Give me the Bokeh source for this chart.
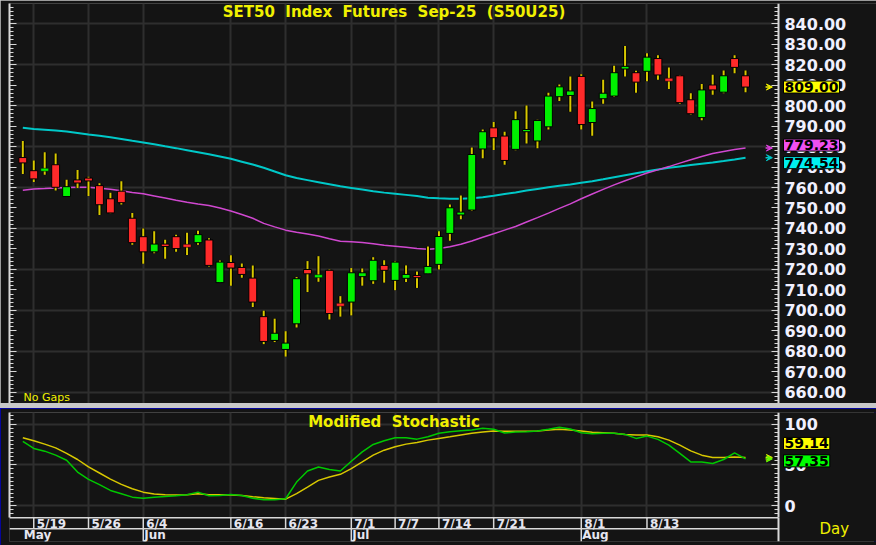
from bokeh.plotting import figure
from bokeh.layouts import column
from bokeh.models import (ColumnDataSource, Range1d, LinearAxis, SingleIntervalTicker, FixedTicker,
                          PrintfTickFormatter, Grid, Label, Arrow, VeeHead)
from bokeh.core.properties import value
from bokeh.embed import file_html
from bokeh.resources import INLINE

# ---------------- data ----------------
tick_idx = [1, 6, 11, 19, 24, 30, 34, 38, 43, 51, 57]
tick_labels = ["5/19", "5/26", "6/4", "6/16", "6/23", "7/1", "7/7", "7/14", "7/21", "8/1", "8/13"]
month_idx = [0, 11, 30, 51]
month_labels = ["May", "Jun", "Jul", "Aug"]

opens = [774.6, 768.2, 768.3, 771.1, 755.6, 763.7, 764.6, 760.9, 754.5, 758.2,
         745.0, 736.0, 728.6, 732.4, 736.0, 731.8, 733.1, 734.4, 713.6, 723.4,
         721.0, 715.8, 697.0, 685.4, 681.0, 693.5, 720.0, 716.5, 719.6, 703.0,
         704.1, 716.5, 714.5, 722.0, 714.7, 715.7, 717.1, 717.9, 722.5, 737.6,
         746.6, 749.0, 778.8, 789.1, 785.1, 778.6, 787.2, 782.7, 789.6, 804.3,
         804.9, 814.2, 791.7, 803.3, 804.6, 817.8, 816.0, 816.7, 822.9, 812.8,
         814.5, 802.8, 794.1, 810.0, 806.5, 822.9, 814.5]
highs = [782.7, 773.2, 777.2, 776.6, 763.8, 768.5, 765.3, 762.1, 757.4, 763.0,
         747.6, 740.0, 738.6, 734.5, 737.0, 737.9, 738.9, 735.3, 724.4, 727.0,
         722.9, 722.0, 699.9, 696.0, 689.9, 716.3, 724.1, 726.5, 720.0, 707.0,
         720.7, 720.5, 726.0, 724.5, 724.0, 722.0, 719.0, 731.2, 738.6, 751.7,
         756.1, 779.5, 788.3, 792.0, 787.2, 797.2, 800.0, 793.1, 806.2, 810.2,
         814.2, 815.2, 802.0, 812.6, 819.4, 829.0, 817.0, 825.5, 824.5, 818.6,
         814.9, 806.0, 810.5, 815.0, 817.1, 824.5, 817.1]
lows = [766.6, 762.7, 766.2, 758.5, 755.4, 759.8, 755.8, 746.6, 747.4, 751.7,
        732.1, 722.8, 727.9, 725.2, 728.7, 727.1, 732.1, 721.5, 713.4, 712.1,
        716.0, 701.7, 683.6, 684.6, 677.5, 691.7, 709.0, 714.0, 695.6, 697.0,
        697.6, 712.1, 713.0, 713.6, 709.9, 713.9, 711.0, 717.9, 720.0, 734.0,
        744.5, 748.5, 774.3, 778.3, 771.1, 778.2, 781.5, 779.1, 788.3, 802.2,
        796.9, 788.3, 785.3, 800.9, 804.1, 814.2, 806.2, 811.8, 812.6, 808.1,
        800.9, 795.6, 792.8, 805.2, 806.0, 815.7, 806.5]
closes = [772.0, 764.2, 769.0, 760.1, 760.4, 762.2, 763.2, 751.6, 747.6, 752.6,
          733.1, 728.6, 732.4, 731.2, 730.2, 731.3, 737.0, 722.0, 723.6, 720.7,
          717.6, 704.1, 684.9, 688.9, 684.1, 715.5, 717.9, 717.0, 698.5, 702.6,
          718.4, 718.4, 724.5, 719.6, 723.6, 717.6, 716.0, 721.5, 736.1, 750.1,
          748.0, 776.1, 787.2, 784.3, 773.2, 793.1, 788.3, 792.7, 804.6, 809.1,
          807.1, 790.7, 798.5, 806.0, 816.0, 819.1, 811.4, 823.6, 814.9, 812.3,
          801.4, 796.0, 807.6, 807.6, 814.5, 818.6, 809.0]

ma_fast = [758.7, 759.3, 759.5, 759.8, 760.0, 760.1, 760.1, 759.6, 759.1, 758.4,
           757.6, 756.9, 755.9, 754.9, 753.8, 752.8, 751.9, 751.2, 750.0, 748.5,
           746.8, 745.0, 742.5, 740.8, 739.2, 738.2, 737.3, 736.3, 735.0, 733.8,
           733.5, 733.2, 732.6, 731.8, 731.3, 730.8, 730.2, 729.9, 730.2, 731.1,
           732.3, 733.9, 735.7, 737.4, 739.2, 741.0, 743.2, 745.3, 747.5, 749.8,
           752.0, 754.5, 756.8, 759.1, 761.3, 763.3, 765.2, 767.1, 768.6, 770.2,
           771.9, 773.5, 775.1, 776.6, 777.6, 778.5, 779.23]
ma_slow = [789.1, 788.5, 788.2, 787.8, 787.3, 786.6, 785.9, 785.3, 784.5, 783.7,
           782.8, 782.0, 781.1, 780.1, 779.2, 778.2, 777.2, 776.2, 775.1, 774.0,
           772.6, 771.2, 769.6, 767.8, 766.0, 764.6, 763.6, 762.6, 761.6, 760.6,
           759.8, 759.0, 758.2, 757.5, 757.0, 756.4, 755.8, 755.0, 754.7, 754.5,
           754.5, 754.8, 755.3, 756.0, 756.8, 757.6, 758.5, 759.3, 760.1, 760.8,
           761.5, 762.3, 763.1, 764.0, 765.0, 766.0, 767.0, 767.9, 768.8, 769.6,
           770.3, 771.0, 771.6, 772.2, 772.9, 773.7, 774.54]

stoch_k = [78.7, 70.1, 66.8, 61.9, 55.7, 41.3, 32.3, 25.8, 18.8, 14.8,
           10.6, 9.3, 10.6, 11.4, 12.3, 13.5, 16.7, 12.3, 12.7, 13.9,
           12.7, 9.3, 7.4, 7.4, 8.6, 29.0, 42.6, 47.5, 44.3, 42.6,
           54.5, 65.9, 75.0, 79.5, 83.2, 83.2, 81.5, 84.4, 88.6, 90.5,
           91.8, 92.6, 94.7, 93.5, 88.9, 90.2, 90.5, 91.4, 93.5, 95.9,
           93.8, 89.3, 88.1, 88.6, 88.6, 87.3, 82.4, 85.2, 81.2, 74.2,
           64.0, 53.6, 53.6, 51.7, 56.6, 64.7, 57.35]
stoch_d = [83.2, 79.5, 75.4, 70.8, 64.0, 56.6, 47.5, 40.1, 32.7, 26.2,
           20.9, 16.7, 14.3, 13.5, 13.1, 13.5, 14.8, 13.5, 13.5, 13.1,
           12.7, 11.1, 9.8, 9.0, 8.1, 14.8, 22.9, 31.1, 35.2, 38.5,
           45.5, 53.6, 61.9, 68.0, 72.1, 75.4, 77.5, 80.3, 82.4, 84.4,
           86.5, 88.6, 90.2, 91.4, 91.0, 91.0, 91.0, 91.4, 92.6, 93.5,
           92.6, 91.4, 89.8, 89.3, 88.6, 87.3, 86.5, 86.5, 84.4, 80.3,
           74.2, 67.2, 61.9, 59.0, 59.0, 59.8, 59.14]

# ---------------- layout constants ----------------
BG = "#141414"
GRID = "#2e2e2e"
AXC = "#d8d8d8"
LABC = "#f0f0ff"
YEL = "#f0f000"
FONT = "DejaVu Sans"
X0, X1 = -1.215, 77.96          # whole frame (incl. price-scale area)
X_AX = 69.01                    # location of price scale line
Y1_LO, Y1_HI = 654.63, 849.76
Y2_LO, Y2_HI = -43.64, 114.06
DT_TOP, DT_MID = -14.67, -28.12
DATE_Y, MONTH_Y = -22.2, -36.3
LBL_X = 69.47
ARR_X0, ARR_X1 = 67.83, 68.45
NB = "\u00a0"

n = len(closes)
idx = list(range(n))
XR = Range1d(X0, X1)


def style_right_axis(ax, fmt=None):
    if fmt is not None:
        ax.formatter = fmt
    ax.major_label_text_color = LABC
    ax.major_label_text_font = FONT
    ax.major_label_text_font_style = "bold"
    ax.major_label_text_font_size = "16px"
    ax.major_label_standoff = 6
    ax.major_tick_in, ax.major_tick_out = 7, 0
    ax.minor_tick_in, ax.minor_tick_out = 4, 0
    ax.axis_line_color = AXC
    ax.axis_line_width = 2
    ax.major_tick_line_color = AXC
    ax.minor_tick_line_color = AXC


def hidden_left_axis(ticker, bounds="auto"):
    return LinearAxis(ticker=ticker, bounds=bounds,
                      major_label_text_font_size="0px", major_label_text_color=None,
                      major_label_standoff=0,
                      major_tick_in=7, major_tick_out=0, minor_tick_in=4, minor_tick_out=0,
                      axis_line_color=AXC, axis_line_width=2,
                      major_tick_line_color=AXC, minor_tick_line_color=AXC)


def box(fig, y, txt, fill, yoff=0):
    fig.add_layout(Label(x=LBL_X, y=y, y_offset=yoff, text=txt, text_align="left",
                         text_baseline="middle", text_color="black", text_font=FONT,
                         text_font_style="bold", text_font_size="14px",
                         background_fill_color=fill, border_line_color="black",
                         padding=1))


def arrow(fig, y, col):
    fig.add_layout(Arrow(x_start=ARR_X0, x_end=ARR_X1, y_start=y, y_end=y,
                         line_color=col, line_width=1.5,
                         end=VeeHead(size=6, line_color=col, fill_color=col)))


# ---------------- price panel ----------------
p = figure(width=876, height=403, x_range=XR, y_range=Range1d(Y1_LO, Y1_HI),
           output_backend="svg", toolbar_location=None, x_axis_location=None,
           y_axis_location=None, min_border_left=9, min_border_right=0,
           min_border_top=3, min_border_bottom=0, background_fill_color=BG,
           border_fill_color=BG, outline_line_color=None,
           styles={"outline": "3px solid #c8c8c8", "outline-offset": "-3px"})
for g in p.grid:
    g.visible = False

p.add_layout(Grid(dimension=1, ticker=SingleIntervalTicker(interval=20),
                  grid_line_color=GRID, grid_line_width=2))
p.add_layout(Grid(dimension=0, ticker=FixedTicker(ticks=tick_idx),
                  grid_line_color=GRID, grid_line_width=2))

ra = LinearAxis(ticker=SingleIntervalTicker(interval=10, num_minor_ticks=5),
                fixed_location=X_AX)
style_right_axis(ra, PrintfTickFormatter(format="%.2f"))
p.add_layout(ra, "right")
p.add_layout(hidden_left_axis(SingleIntervalTicker(interval=10, num_minor_ticks=5)), "left")

# price-scale area background (hides grid there)
p.quad(left=[X_AX], right=[X1], bottom=[Y1_LO], top=[Y1_HI], fill_color=BG, line_color=None)

# moving averages (behind candles)
p.line(idx, ma_slow, line_color="#00c8c8", line_width=2)
p.line(idx, ma_fast, line_color="#d048d0", line_width=1.5)

UP, DN = "#00f000", "#ff2a2a"
colors = [UP if c >= o else DN for o, c in zip(opens, closes)]
src = ColumnDataSource(dict(x=idx, h=highs, l=lows))
p.segment("x", "h", "x", "l", source=src, line_color="black", line_width=4)
p.segment("x", "h", "x", "l", source=src, line_color="#d8c800", line_width=2)

big = [i for i in idx if abs(opens[i] - closes[i]) >= 1.0]
small = [i for i in idx if abs(opens[i] - closes[i]) < 1.0]
bsrc = ColumnDataSource(dict(x=big,
                             top=[max(opens[i], closes[i]) for i in big],
                             bot=[min(opens[i], closes[i]) for i in big],
                             col=[colors[i] for i in big]))
p.vbar(x="x", width=0.72, top="top", bottom="bot", source=bsrc,
       fill_color="col", line_color="black", line_width=1)
ssrc = ColumnDataSource(dict(x=small,
                             y=[(opens[i] + closes[i]) / 2 for i in small],
                             col=[colors[i] for i in small]))
p.rect(x="x", y="y", width=0.72, height=3, height_units="screen", source=ssrc,
       fill_color="col", line_color="black", line_width=0.5)

p.add_layout(Label(x=(X0 + X_AX) / 2, y=Y1_HI, y_offset=1,
                   text=f"SET50{NB} Index{NB} Futures{NB} Sep-25{NB} (S50U25)",
                   text_align="center", text_baseline="top", text_color=YEL,
                   text_font=FONT, text_font_style="bold", text_font_size="15px"))
p.add_layout(Label(x=X0, y=Y1_LO, x_offset=14, y_offset=0, text="No Gaps",
                   text_align="left", text_baseline="bottom", text_color=YEL,
                   text_font=FONT, text_font_size="11px"))

box(p, closes[-1], f"{closes[-1]:.2f}", "#ffff00")
box(p, ma_fast[-1], f"{ma_fast[-1]:.2f}", "#f050f0", yoff=3)
box(p, ma_slow[-1], f"{ma_slow[-1]:.2f}", "#00f0f0", yoff=-5)
arrow(p, closes[-1], YEL)
arrow(p, ma_fast[-1], "#e040e0")
arrow(p, ma_slow[-1], "#00c8c8")

# ---------------- stochastic panel ----------------
q = figure(width=876, height=137, x_range=XR, y_range=Range1d(Y2_LO, Y2_HI),
           output_backend="svg", toolbar_location=None, x_axis_location=None,
           y_axis_location=None, min_border_left=9, min_border_right=0,
           min_border_top=4, min_border_bottom=4, background_fill_color=BG,
           border_fill_color=BG, outline_line_color=None,
           styles={"outline": "2px solid #0000c8", "outline-offset": "-2px"})
for g in q.grid:
    g.visible = False

q.add_layout(Grid(dimension=1, ticker=SingleIntervalTicker(interval=50),
                  grid_line_color=GRID, grid_line_width=2))
q.add_layout(Grid(dimension=0, ticker=FixedTicker(ticks=tick_idx),
                  grid_line_color=GRID, grid_line_width=2))

qa = LinearAxis(ticker=SingleIntervalTicker(interval=50, num_minor_ticks=10),
                fixed_location=X_AX, bounds=(DT_TOP, Y2_HI))
style_right_axis(qa)
q.add_layout(qa, "right")
q.add_layout(hidden_left_axis(SingleIntervalTicker(interval=50, num_minor_ticks=10),
                              bounds=(DT_TOP, Y2_HI)), "left")

q.quad(left=[X_AX], right=[X1], bottom=[Y2_LO], top=[Y2_HI], fill_color=BG, line_color=None)

q.line(idx, stoch_d, line_color="#d8c800", line_width=1.5)
q.line(idx, stoch_k, line_color="#00c800", line_width=1.5)

# date scale area
q.quad(left=[X0], right=[X_AX], top=[DT_TOP], bottom=[Y2_LO], fill_color=BG, line_color=None)
q.segment(x0=[X0, X0], y0=[DT_TOP, DT_MID], x1=[X_AX, X_AX], y1=[DT_TOP, DT_MID],
          line_color=AXC, line_width=1.5)
q.segment(x0=tick_idx, y0=[DT_TOP] * len(tick_idx), x1=tick_idx, y1=[DT_MID] * len(tick_idx),
          line_color=AXC, line_width=1.5)
q.segment(x0=month_idx[1:], y0=[DT_MID] * (len(month_idx) - 1), x1=month_idx[1:],
          y1=[Y2_LO] * (len(month_idx) - 1), line_color=AXC, line_width=1.5)
q.segment(x0=[X_AX], y0=[DT_TOP], x1=[X_AX], y1=[Y2_LO], line_color=AXC, line_width=2)

dsrc = ColumnDataSource(dict(x=tick_idx, y=[DATE_Y] * len(tick_idx), t=tick_labels))
q.text(x="x", y="y", text="t", source=dsrc, x_offset=3, text_align="left",
       text_baseline="middle", text_color="#e6e6f0", text_font=value(FONT),
       text_font_style="bold", text_font_size="12px")
msrc = ColumnDataSource(dict(x=month_idx, y=[MONTH_Y] * len(month_idx), t=month_labels))
q.text(x="x", y="y", text="t", source=msrc, x_offset=1, text_align="left",
       text_baseline="middle", text_color="#e6e6f0", text_font=value(FONT),
       text_font_style="bold", text_font_size="12px")

q.add_layout(Label(x=(X0 + X_AX) / 2, y=Y2_HI, y_offset=0,
                   text=f"Modified{NB} Stochastic",
                   text_align="center", text_baseline="top", text_color=YEL,
                   text_font=FONT, text_font_style="bold", text_font_size="15px"))
q.add_layout(Label(x=72.76, y=(DT_MID + Y2_LO) / 2 + 8, text="Day", text_align="left",
                   text_baseline="middle", text_color=YEL, text_font=FONT,
                   text_font_size="15px"))

box(q, stoch_d[-1], f"{stoch_d[-1]:.2f}", "#ffff00", yoff=14)
box(q, stoch_k[-1], f"{stoch_k[-1]:.2f}", "#00ff00", yoff=-2)
arrow(q, stoch_d[-1], "#d2e000")
arrow(q, stoch_k[-1], "#60ff00")

layout = column(p, q, spacing=5, styles={"background-color": "#c8c8c8"})
open("out.html", "w").write(file_html(layout, INLINE))
